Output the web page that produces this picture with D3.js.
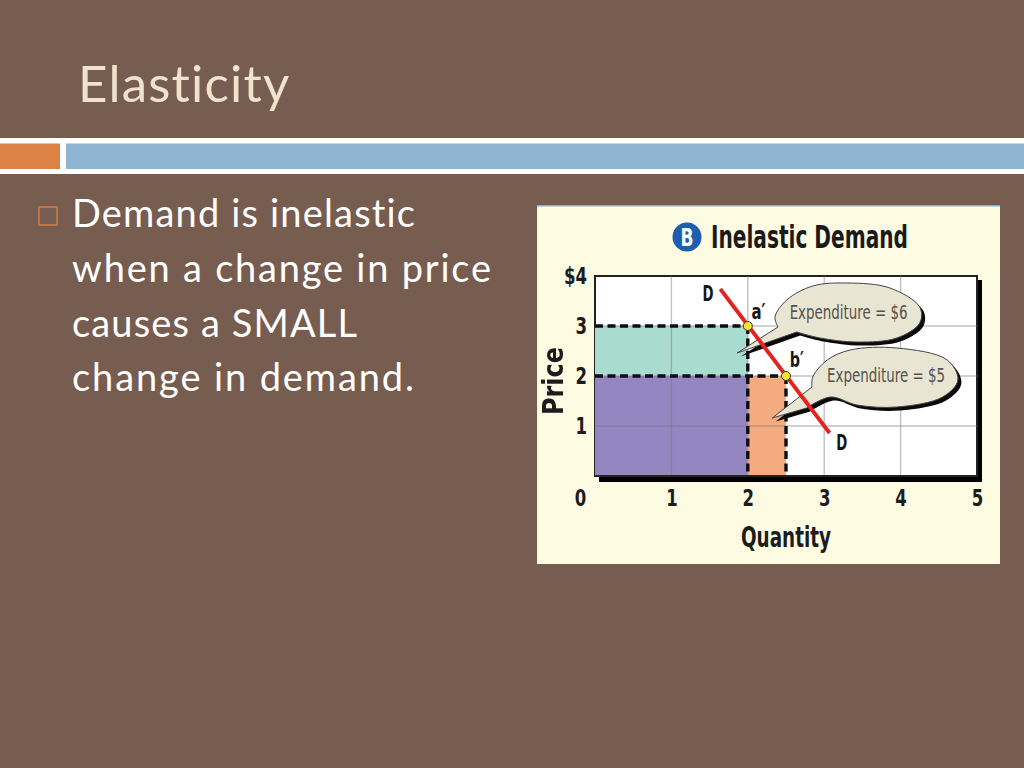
<!DOCTYPE html>
<html><head><meta charset="utf-8">
<script src="https://cdn.jsdelivr.net/npm/d3@7"></script>
<style>html,body{margin:0;padding:0;background:#775c50;overflow:hidden}svg{display:block}text{font-variant-ligatures:none}</style>
</head><body><div id="c"></div>
<script>
const slideTitle = "Elasticity";
const bodyLines = ["Demand is inelastic","when a change in price","causes a SMALL","change in demand."];
const chartTitle = "Inelastic Demand";
const xTicks = [0,1,2,3,4,5];
const yTicks = [1,2,3,4];
const yLabels = {1:"1",2:"2",3:"3",4:"$4"};
const demandLine = [[1.64,3.74],[3.07,0.86]];
const points = [{q:2,p:3,label:"a′"},{q:2.5,p:2,label:"b′"}];
const areas = [
 {q0:0,q1:2,p0:2,p1:3,color:"#a9dccf"},
 {q0:0,q1:2,p0:0,p1:2,color:"#9486c0"},
 {q0:2,q1:2.5,p0:0,p1:2,color:"#f5ab80"}];
const tip1 = [1.86,2.46];
const bubble1 = [[2.395,2.98],[2.356,3.18],[2.51,3.52],[2.85,3.80],[3.30,3.86],[3.86,3.76],[4.25,3.38],[4.25,3.06],[3.95,2.76],[3.43,2.68],[2.945,2.76],[2.64,2.88]];
const tip2 = [2.32,1.16];
const bubble2 = [[2.84,1.78],[2.85,1.98],[3.04,2.32],[3.34,2.52],[3.95,2.56],[4.61,2.32],[4.75,1.92],[4.55,1.58],[3.95,1.38],[3.43,1.42],[3.08,1.58],[2.77,1.36]];
const bubbleText = [{q:3.32,p:3.28,t:"Expenditure = $6"},{q:3.81,p:2.02,t:"Expenditure = $5"}];

const svg = d3.select("#c").append("svg").attr("width",1024).attr("height",768);
svg.append("rect").attr("width",1024).attr("height",768).attr("fill","#775c50");
// header bands
svg.append("rect").attr("y",138).attr("width",1024).attr("height",36).attr("fill","#fff");
svg.append("rect").attr("y",143.5).attr("width",60).attr("height",25.5).attr("fill","#dd8244");
svg.append("rect").attr("x",66).attr("y",143.5).attr("width",958).attr("height",25.5).attr("fill","#90b5d2");
const bodyFont = "Lato, 'Open Sans', sans-serif";
svg.append("text").attr("x",78).attr("y",102).text(slideTitle)
  .attr("font-family",bodyFont).attr("font-size",51).attr("fill","#efe3cd").attr("letter-spacing",1.2);
svg.append("rect").attr("x",39).attr("y",207).attr("width",18).attr("height",18)
  .attr("fill","none").attr("stroke","#dd8244").attr("stroke-width",1.3);
const bodyY = [227,282,337,391];
const bodyW = [343,419,285,342];
svg.selectAll("text.body").data(bodyLines).join("text").attr("class","body")
  .attr("x",72).attr("y",(d,i)=>bodyY[i]).text(d=>d)
  .attr("font-family",bodyFont).attr("font-size",38).attr("fill","#fff")
  .attr("textLength",(d,i)=>bodyW[i]).attr("lengthAdjust","spacing");

// chart image panel
const g = svg.append("g").style("filter","blur(0.75px)");
g.append("rect").attr("x",537).attr("y",205).attr("width",463).attr("height",359).attr("fill","#fdfbe2");
g.append("rect").attr("x",537).attr("y",205).attr("width",463).attr("height",1.5).attr("fill","#7fb2d8");
const x = d3.scaleLinear().domain([0,5]).range([595,977]);
const y = d3.scaleLinear().domain([0,4]).range([476,276]);
const narrow = "'DejaVu Sans Condensed',sans-serif";
// shadow + plot
g.append("rect").attr("x",x(0)+4).attr("y",y(4)+4).attr("width",x(5)-x(0)+1).attr("height",y(0)-y(4)+2).attr("fill","#000");
g.append("rect").attr("x",x(0)).attr("y",y(4)).attr("width",x(5)-x(0)).attr("height",y(0)-y(4)).attr("fill","#fff").attr("stroke","#222").attr("stroke-width",2);
// areas
g.selectAll("rect.area").data(areas).join("rect").attr("class","area")
  .attr("x",d=>x(d.q0)).attr("width",d=>x(d.q1)-x(d.q0))
  .attr("y",d=>y(d.p1)).attr("height",d=>y(d.p0)-y(d.p1)).attr("fill",d=>d.color);
// axes with gridlines
const xAxis = g.append("g").attr("transform",`translate(0,${y(0)})`)
  .call(d3.axisBottom(x).tickValues(xTicks).tickSize(0).tickPadding(14).tickFormat(d3.format("d")));
const yAxis = g.append("g").attr("transform",`translate(${x(0)},0)`)
  .call(d3.axisLeft(y).tickValues(yTicks).tickSize(0).tickPadding(8).tickFormat(d=>yLabels[d]));
[xAxis,yAxis].forEach(a=>{a.select(".domain").remove();
  a.selectAll("text").attr("font-family",narrow).attr("font-weight","bold").attr("font-size",23).attr("fill","#1c1c1c")
   .attr("textLength",function(){return this.textContent.length*11.5;}).attr("lengthAdjust","spacingAndGlyphs");});
xAxis.selectAll(".tick").filter(d=>d===0).select("text").attr("dx",-15);
g.append("g").selectAll("line").data([1,2,3,4]).join("line")
  .attr("x1",d=>x(d)).attr("x2",d=>x(d)).attr("y1",y(4)).attr("y2",y(0))
  .attr("stroke","#777").attr("stroke-opacity",0.45).attr("stroke-width",1.4);
g.append("g").selectAll("line").data([1,2,3]).join("line")
  .attr("y1",d=>y(d)).attr("y2",d=>y(d)).attr("x1",x(0)).attr("x2",x(5))
  .attr("stroke","#777").attr("stroke-opacity",0.45).attr("stroke-width",1.4);
g.append("line").attr("x1",x(0)).attr("x2",x(5)).attr("y1",y(0)).attr("y2",y(0)).attr("stroke","#222").attr("stroke-width",2);
// dashed guides
const dashes = [[[0,3],[2,3]],[[0,2],[2.5,2]],[[2,3],[2,0]],[[2.5,2],[2.5,0]]];
const line = d3.line().x(d=>x(d[0])).y(d=>y(d[1]));
g.selectAll("path.dash").data(dashes).join("path").attr("class","dash").attr("d",line)
  .attr("fill","none").attr("stroke","#0c0c14").attr("stroke-width",3.4).attr("stroke-dasharray","8 4.5");
// bubbles
const curve = d3.line().x(d=>x(d[0])).y(d=>y(d[1])).curve(d3.curveCatmullRom.alpha(0.5));
[[bubble1,tip1],[bubble2,tip2]].forEach(([b,t])=>{
  const d = curve(b)+"L"+x(t[0])+","+y(t[1])+"Z";
  g.append("path").attr("d",d).attr("fill","#0a0a0a").attr("transform","translate(3.5,3.5)");
  g.append("path").attr("d",d).attr("fill","#e9e5d3").attr("stroke","#444").attr("stroke-width",1);
});
g.selectAll("text.bt").data(bubbleText).join("text").attr("class","bt")
  .attr("x",d=>x(d.q)).attr("y",d=>y(d.p)).attr("dy","0.35em").attr("text-anchor","middle").text(d=>d.t)
  .attr("font-family",narrow).attr("font-size",20).attr("fill","#55524a").attr("textLength",118).attr("lengthAdjust","spacingAndGlyphs");
// demand
g.append("path").attr("d",line(demandLine)).attr("stroke","#e2231f").attr("stroke-width",3.8).attr("fill","none");
// points
g.selectAll("circle.pt").data(points).join("circle").attr("class","pt")
  .attr("cx",d=>x(d.q)).attr("cy",d=>y(d.p)).attr("r",4.5).attr("fill","#f6e62a").attr("stroke","#333").attr("stroke-width",1);
// labels
const lab = (t,q,p,w)=>g.append("text").attr("x",x(q)).attr("y",y(p)).attr("text-anchor","middle").attr("dy","0.35em").text(t)
  .attr("font-family",narrow).attr("font-weight","bold").attr("font-size",22).attr("fill","#151515")
  .attr("textLength",w).attr("lengthAdjust","spacingAndGlyphs");
lab("D",1.48,3.66,11); lab("D",3.23,0.68,11);
points.forEach((d,i)=>lab(d.label,d.q+0.14,d.p+(i?0.33:0.30),14));
// titles
g.append("text").attr("x",786).attr("y",537).attr("dy","0.35em").attr("text-anchor","middle").text("Quantity")
  .attr("font-family",narrow).attr("font-weight","bold").attr("font-size",28).attr("fill","#1c1c1c").attr("textLength",90).attr("lengthAdjust","spacingAndGlyphs");
g.append("text").attr("transform","translate(553,381) rotate(-90)").attr("dy","0.35em").attr("text-anchor","middle").text("Price")
  .attr("font-family",narrow).attr("font-weight","bold").attr("font-size",28).attr("fill","#1c1c1c").attr("textLength",68).attr("lengthAdjust","spacingAndGlyphs");
g.append("circle").attr("cx",687).attr("cy",237).attr("r",14.5).attr("fill","#1c5fae");
g.append("text").attr("x",687).attr("y",237).attr("dy","0.36em").attr("text-anchor","middle").text("B")
  .attr("font-family",narrow).attr("font-weight","bold").attr("font-size",24).attr("fill","#fff").attr("textLength",13).attr("lengthAdjust","spacingAndGlyphs");
g.append("text").attr("x",711).attr("y",237).attr("dy","0.35em").text(chartTitle)
  .attr("font-family",narrow).attr("font-weight","bold").attr("font-size",32).attr("fill","#1a1a1a").attr("textLength",197).attr("lengthAdjust","spacingAndGlyphs");
</script></body></html>
